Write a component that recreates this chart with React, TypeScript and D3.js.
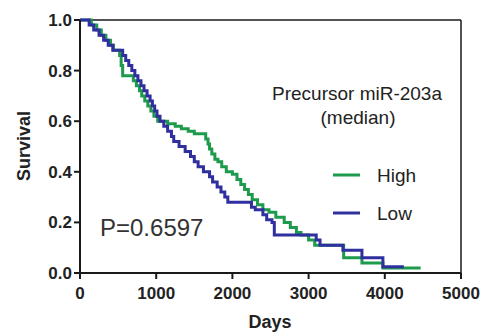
import React from "react";
import * as d3 from "d3";

const xTicks = [0, 1000, 2000, 3000, 4000, 5000];
const yTicks = [0, 0.2, 0.4, 0.6, 0.8, 1.0];

const highDays = [0, 150, 220, 280, 340, 400, 440, 520, 540, 560, 700, 740, 780, 810, 850, 890, 930, 970, 1020, 1150, 1250, 1330, 1420, 1500, 1650, 1680, 1700, 1730, 1770, 1810, 1860, 1920, 2000, 2060, 2110, 2160, 2210, 2260, 2330, 2400, 2480, 2570, 2680, 2760, 2840, 2900, 3000, 3080, 3460, 3700, 3975, 4470];
const highSurv = [1.0, 0.98, 0.96, 0.94, 0.92, 0.9, 0.88, 0.86, 0.82, 0.78, 0.76, 0.74, 0.72, 0.7, 0.68, 0.66, 0.64, 0.62, 0.6, 0.59, 0.58, 0.57, 0.56, 0.55, 0.53, 0.51, 0.49, 0.47, 0.45, 0.44, 0.42, 0.4, 0.39, 0.37, 0.35, 0.33, 0.31, 0.29, 0.27, 0.25, 0.24, 0.22, 0.2, 0.18, 0.16, 0.15, 0.13, 0.11, 0.06, 0.04, 0.02, 0.02];

const lowDays = [0, 120, 180, 250, 310, 370, 430, 560, 600, 640, 680, 720, 760, 800, 840, 880, 920, 950, 980, 1010, 1050, 1100, 1150, 1200, 1230, 1300, 1380, 1450, 1500, 1550, 1620, 1700, 1740, 1800, 1850, 1900, 1940, 2250, 2300, 2400, 2450, 2520, 2550, 3100, 3150, 3450, 3700, 3975, 4250];
const lowSurv = [1.0, 0.98, 0.96, 0.94, 0.92, 0.9, 0.88, 0.86, 0.84, 0.82, 0.8, 0.78, 0.76, 0.74, 0.72, 0.7, 0.68, 0.66, 0.64, 0.62, 0.6, 0.58, 0.56, 0.54, 0.52, 0.5, 0.48, 0.46, 0.44, 0.42, 0.4, 0.38, 0.36, 0.34, 0.32, 0.3, 0.28, 0.26, 0.25, 0.23, 0.21, 0.2, 0.15, 0.13, 0.11, 0.09, 0.06, 0.025, 0.025];

const seriesNames = ["High", "Low"];
const seriesColors = ["#1e9a4c", "#2f2f9f"];

export default function App() {
  const W = 487, H = 332;
  const x = d3.scaleLinear().domain([0, 5000]).range([80, 461]);
  const y = d3.scaleLinear().domain([0, 1]).range([273, 20]);
  const line = d3
    .line<[number, number]>()
    .x((d) => x(d[0]))
    .y((d) => y(d[1]))
    .curve(d3.curveStepAfter);

  const series = [
    highDays.map((t, i) => [t, highSurv[i]] as [number, number]),
    lowDays.map((t, i) => [t, lowSurv[i]] as [number, number]),
  ];
  const font = "'Liberation Sans', Arial, sans-serif";
  const axisColor = "#1a1a1a";

  return (
    <svg
      width={W}
      height={H}
      style={{ position: "absolute", left: 0, top: 0, background: "#fff" }}
      fontFamily={font}
    >
      <rect x={0} y={0} width={W} height={H} fill="#fff" />
      {/* frame */}
      <line x1={x(0)} x2={x(5000)} y1={y(1)} y2={y(1)} stroke={axisColor} strokeWidth={1.5} />
      <line x1={x(5000)} x2={x(5000)} y1={y(1)} y2={y(0)} stroke={axisColor} strokeWidth={1.5} />
      {/* series */}
      {series.map((s, i) => (
        <path key={i} d={line(s) || ""} fill="none" stroke={seriesColors[i]} strokeWidth={3} />
      ))}
      {/* axes */}
      <line x1={x(0)} x2={x(0)} y1={y(1)} y2={y(0)} stroke={axisColor} strokeWidth={2} />
      <line x1={x(0)} x2={x(5000)} y1={y(0)} y2={y(0)} stroke={axisColor} strokeWidth={2} />
      {yTicks.map((t) => (
        <g key={"y" + t}>
          <line x1={x(0) - 6} x2={x(0)} y1={y(t)} y2={y(t)} stroke={axisColor} strokeWidth={2} />
          <text x={x(0) - 8} y={y(t)} dy="0.35em" textAnchor="end" fontSize={17} fontWeight="bold" fill="#222">
            {t.toFixed(1)}
          </text>
        </g>
      ))}
      {xTicks.map((t) => (
        <g key={"x" + t}>
          <line x1={x(t)} x2={x(t)} y1={y(0)} y2={y(0) + 6} stroke={axisColor} strokeWidth={2} />
          <text x={x(t)} y={299} textAnchor="middle" fontSize={17} fontWeight="bold" fill="#222">
            {t}
          </text>
        </g>
      ))}
      <text x={270} y={328} textAnchor="middle" fontSize={18} fontWeight="bold" fill="#222">
        Days
      </text>
      <text
        transform={`translate(30,146) rotate(-90)`}
        textAnchor="middle"
        fontSize={18}
        fontWeight="bold"
        fill="#222"
      >
        Survival
      </text>
      {/* legend */}
      <text x={357} y={100} textAnchor="middle" fontSize={19} fill="#222">
        Precursor miR-203a
      </text>
      <text x={358} y={124} textAnchor="middle" fontSize={19} fill="#222">
        (median)
      </text>
      {seriesNames.map((n, i) => (
        <g key={n}>
          <line x1={333} x2={360} y1={175 + i * 38} y2={175 + i * 38} stroke={seriesColors[i]} strokeWidth={3} />
          <text x={377} y={175 + i * 38} dy="0.35em" fontSize={19} fill="#222">
            {n}
          </text>
        </g>
      ))}
      <text x={100} y={228} dy="0.35em" fontSize={24} fill="#333">
        P=0.6597
      </text>
    </svg>
  );
}
